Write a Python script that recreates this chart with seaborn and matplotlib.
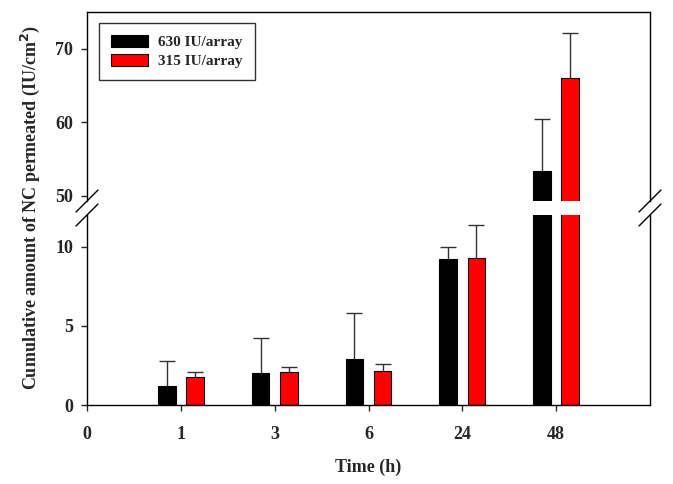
import pandas as pd
import matplotlib
matplotlib.use('Agg')
import matplotlib.pyplot as plt
from matplotlib.patches import Patch
import seaborn as sns

# Data
times = ['0', '1', '3', '6', '24', '48']
groups = ['630 IU/array', '315 IU/array']
means_630 = [1.2, 2.0, 2.9, 9.25, 53.4]
sd_630 = [1.6, 2.25, 2.9, 0.75, 7.0]
means_315 = [1.75, 2.1, 2.13, 9.27, 66.0]
sd_315 = [0.35, 0.28, 0.48, 2.1, 6.2]
bar_times = times[1:]
colors = ['black', 'red']

sns.set_style('white')
plt.rcParams['font.family'] = ['Liberation Serif', 'DejaVu Serif']
plt.rcParams['font.weight'] = 'bold'

rows = []
for t, m, s in zip(bar_times, means_630, sd_630):
    rows.append({'time': t, 'group': groups[0], 'value': m, 'sd': s})
for t, m, s in zip(bar_times, means_315, sd_315):
    rows.append({'time': t, 'group': groups[1], 'value': m, 'sd': s})
df = pd.DataFrame(rows)

fig = plt.figure(figsize=(6.73, 4.84), dpi=100)
ax_top = fig.add_axes([0.1293, 0.5847, 0.8365, 0.3905])
ax_bot = fig.add_axes([0.1293, 0.1632, 0.8365, 0.3926])

for ax in (ax_top, ax_bot):
    sns.barplot(data=df, x='time', y='value', hue='group', order=times,
                hue_order=groups, palette=colors, saturation=1, width=0.6,
                gap=0.37, edgecolor='black', linewidth=0.8, errorbar=None,
                legend=False, ax=ax)
    # error bars (upper only) placed on the seaborn bars
    for container, grp in zip(ax.containers, groups):
        sub = df[df['group'] == grp].set_index('time')
        for bar in container:
            cx = bar.get_x() + bar.get_width() / 2
            t = times[int(round(cx))]
            h = bar.get_height()
            _, caps, _ = ax.errorbar(cx, h, yerr=[[0], [sub.loc[t, 'sd']]],
                                     fmt='none', ecolor='#333333', elinewidth=1,
                                     capsize=6, capthick=1, zorder=1)
            caps[0].set_visible(False)
    ax.set_xlim(0, 6)
    ax.set_xlabel('')
    ax.set_ylabel('')
    for sp in ax.spines.values():
        sp.set_color('black')
        sp.set_linewidth(1)
    ax.tick_params(axis='y', direction='out', length=4, width=1, pad=6,
                   labelsize=13, left=True)

ax_top.set_ylim(49.3, 75)
ax_top.set_yticks([50, 60, 70])
ax_top.spines['bottom'].set_visible(False)
ax_top.tick_params(axis='x', bottom=False, labelbottom=False)

ax_bot.set_ylim(0, 12)
ax_bot.set_yticks([0, 5, 10])
ax_bot.spines['top'].set_visible(False)
ax_bot.set_xticks(range(len(times)))
ax_bot.set_xticklabels(times)
ax_bot.tick_params(axis='x', direction='out', length=4, width=1, pad=11,
                   labelsize=13, bottom=True)

for lab in ax_top.get_yticklabels() + ax_bot.get_yticklabels() + ax_bot.get_xticklabels():
    lab.set_fontweight('bold')

# break marks
def slash(ax, y0, dy, dx):
    for x0 in (0, 1):
        ax.plot([x0 - dx, x0 + dx], [y0 - dy, y0 + dy], transform=ax.transAxes,
                color='black', lw=1, clip_on=False)

slash(ax_top, 0, 11 / 189, 11 / 563)
slash(ax_bot, 1, 11 / 190, 11 / 563)

handles = [Patch(facecolor=c, edgecolor='black', linewidth=0.8) for c in colors]
leg = ax_top.legend(handles, groups, loc='upper left',
                    bbox_to_anchor=(0.021, 0.942), borderaxespad=0,
                    frameon=True, fancybox=False, handlelength=2.4,
                    handleheight=0.8, prop={'weight': 'bold', 'size': 11},
                    borderpad=0.8, labelspacing=0.3, handletextpad=0.7)
leg.get_frame().set_edgecolor('black')
leg.get_frame().set_linewidth(1)

fig.text(0.0446, 0.571, 'Cumulative amount of NC permeated (IU/cm$^\\mathbf{2}$)',
         rotation=90, ha='center', va='center', fontsize=13, fontweight='bold')
fig.text(0.5476, 0.035, 'Time (h)', ha='center', va='center', fontsize=13,
         fontweight='bold')

fig.savefig('out.png', dpi=100)
